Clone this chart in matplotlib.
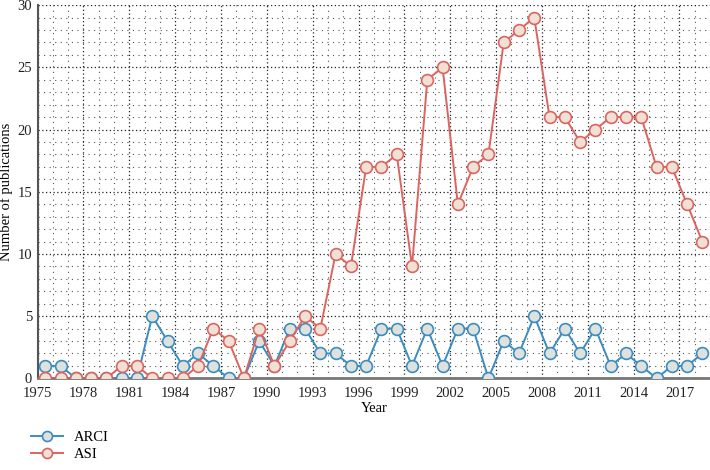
import numpy as np
import matplotlib.pyplot as plt
from matplotlib.ticker import MultipleLocator, FixedLocator

plt.rcParams['font.family'] = ['Liberation Serif', 'DejaVu Serif']

years = np.arange(1975, 2019)
arci = [1, 1, 0, 0, 0, 0, 0, 5, 3, 1, 2, 1, 0, 0, 3, 1, 4, 4, 2, 2, 1,
        1, 4, 4, 1, 4, 1, 4, 4, 0, 3, 2, 5, 2, 4, 2, 4, 1, 2, 1, 0, 1, 1, 2]
asi = [0, 0, 0, 0, 0, 1, 1, 0, 0, 0, 1, 4, 3, 0, 4, 1, 3, 5, 4, 10, 9,
       17, 17, 18, 9, 24, 25, 14, 17, 18, 27, 28, 29, 21, 21, 19, 20, 21, 21, 21, 17,
       17, 14, 11]
xticks = np.arange(1975, 2018, 3)

fig = plt.figure(figsize=(7.1, 4.7), dpi=100)
ax = fig.add_axes([0.053, 0.195, 0.947, 0.794])

x = years + 0.5
ax.plot(x, arci, color='#3a8cc1', lw=1.4, marker='o', ms=8.5,
        mfc='#dfe2dc', mec='#3a8cc1', mew=1.2, label='ARCI', zorder=3)
ax.plot(x, asi, color='#dc6460', lw=1.4, marker='o', ms=8.5,
        mfc='#f1e1d4', mec='#dc6460', mew=1.2, label='ASI', zorder=3)

ax.set_xlim(1975, 2019)
ax.set_ylim(0, 30)
ax.xaxis.set_major_locator(FixedLocator(xticks))
ax.xaxis.set_minor_locator(MultipleLocator(1))
ax.yaxis.set_major_locator(MultipleLocator(5))
ax.yaxis.set_minor_locator(MultipleLocator(1))
ax.tick_params(which='both', length=0, labelsize=10.5, colors='#222')
ax.tick_params(axis='x', pad=6)
ax.tick_params(axis='y', pad=4)

ax.grid(which='major', linestyle=(0, (1, 2)), color='#222', lw=0.9)
ax.grid(which='minor', linestyle=(0, (1, 4)), color='#555', lw=0.8)
ax.set_axisbelow(True)

for s in ['top', 'right']:
    ax.spines[s].set_visible(False)
ax.spines['left'].set_color('#555')
ax.spines['left'].set_linewidth(1.5)
ax.spines['bottom'].set_color('#777')
ax.spines['bottom'].set_linewidth(2)

ax.set_xlabel('Year', fontsize=10.5, labelpad=2)
ax.set_ylabel('Number of publications', fontsize=10.5)
ax.yaxis.set_label_coords(-0.036, 0.5)

ax.legend(loc='upper left', bbox_to_anchor=(-0.03, -0.105), frameon=False,
          fontsize=10.5, handlelength=2.2, labelspacing=0.3, markerscale=0.85)

fig.savefig('out.png', dpi=100)
